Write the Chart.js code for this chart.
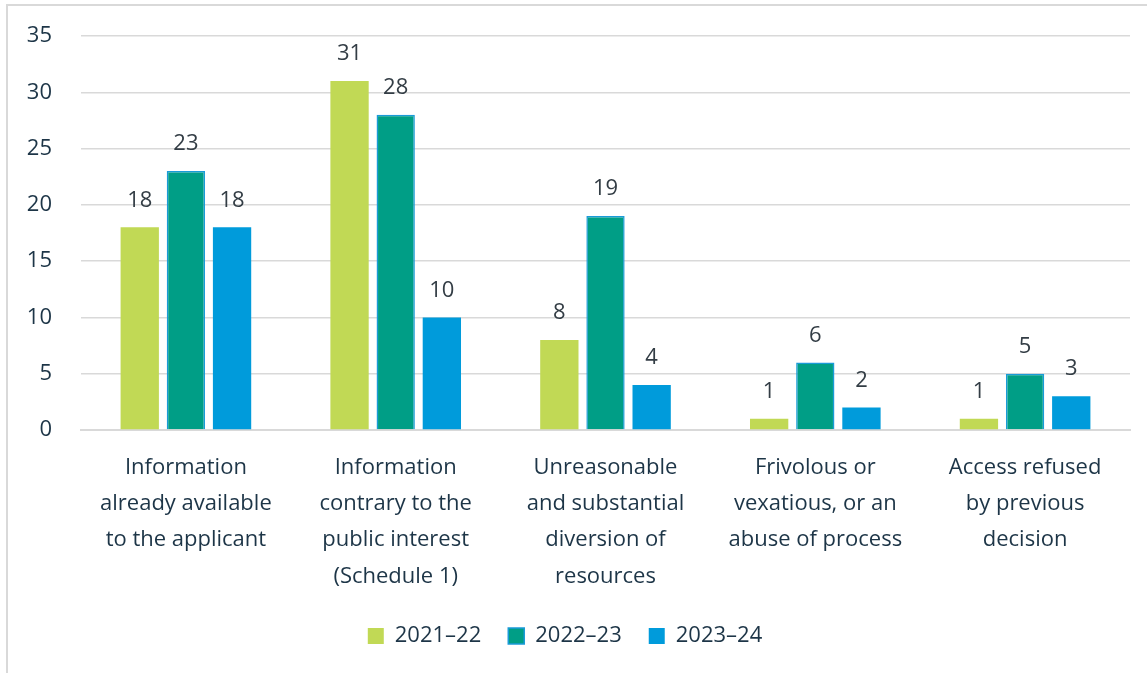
<!DOCTYPE html>
<html>
<head>
<meta charset="utf-8">
<script src="https://cdn.jsdelivr.net/npm/chart.js@4"></script>
<style>
    html, body { margin: 0; padding: 0; background: #fff; }
    #wrap { position: relative; width: 1147px; height: 673px; }
    #frame {
        position: absolute; left: 6px; top: 4px; right: -10px; bottom: -10px;
        border-left: 2px solid #d9d9d9; border-top: 2px solid #d9d9d9;
        pointer-events: none;
    }
    canvas { position: absolute; left: 0; top: 0; }
</style>
</head>
<body>
<div id="wrap">
    <canvas id="myChart" width="1147" height="673"></canvas>
    <div id="frame"></div>
</div>
<script>
const categories = [
    ['Information', 'already available', 'to the applicant'],
    ['Information', 'contrary to the', 'public interest', '(Schedule 1)'],
    ['Unreasonable', 'and substantial', 'diversion of', 'resources'],
    ['Frivolous or', 'vexatious, or an', 'abuse of process'],
    ['Access refused', 'by previous', 'decision']
];
const years = ['2021\u201322', '2022\u201323', '2023\u201324'];
const values2021 = [18, 31, 8, 1, 1];
const values2022 = [23, 28, 19, 6, 5];
const values2023 = [18, 10, 4, 2, 3];
const yTicks = [0, 5, 10, 15, 20, 25, 30, 35];

const textColor = '#1d3547';
const gridColor = '#d9d9d9';
const fontFamily = "'Open Sans', sans-serif";

// value printed above each bar
const barValues = {
    id: 'barValues',
    afterDatasetsDraw(chart) {
        const ctx = chart.ctx;
        ctx.save();
        ctx.font = `22px ${fontFamily}`;
        ctx.fillStyle = '#333d45';
        ctx.textAlign = 'center';
        ctx.textBaseline = 'middle';
        chart.data.datasets.forEach((ds, i) => {
            chart.getDatasetMeta(i).data.forEach((bar, j) => {
                ctx.fillText(String(ds.data[j]), bar.x, bar.y - 27);
            });
        });
        ctx.restore();
    }
};

const ctx = document.getElementById('myChart');
new Chart(ctx, {
    type: 'bar',
    data: {
        labels: categories,
        datasets: [{
            label: years[0],
            data: values2021,
            backgroundColor: '#c1d955',
            borderWidth: 0
        },
        {
            label: years[1],
            data: values2022,
            backgroundColor: '#009e86',
            borderColor: '#1a9bd8',
            borderWidth: 1.5
        },
        {
            label: years[2],
            data: values2023,
            backgroundColor: '#009bdb',
            borderWidth: 0
        }]
    },
    options: {
        responsive: false,
        animation: false,
        categoryPercentage: 0.66,
        barPercentage: 0.83,
        layout: {
            padding: { top: 36, right: 17, left: 0, bottom: 16 }
        },
        plugins: {
            legend: {
                position: 'bottom',
                labels: {
                    color: textColor,
                    font: { family: fontFamily, size: 22 },
                    boxWidth: 16,
                    boxHeight: 16,
                    padding: 27
                }
            },
            tooltip: { enabled: false }
        },
        scales: {
            x: {
                afterFit: scale => { scale.height = 168; },
                grid: { display: false },
                border: { color: gridColor, width: 2 },
                ticks: {
                    color: textColor,
                    font: { family: fontFamily, size: 22, lineHeight: 1.64 },
                    padding: 12,
                    maxRotation: 0,
                    autoSkip: false
                }
            },
            y: {
                min: 0,
                max: 35,
                afterBuildTicks: scale => {
                    scale.ticks = yTicks.map(v => ({ value: v }));
                },
                afterFit: scale => {
                    scale.width = 81;
                    scale.paddingTop = 0;
                    scale.paddingBottom = 0;
                },
                grid: { color: gridColor, lineWidth: 1.5, drawTicks: false },
                border: { display: false },
                ticks: {
                    color: textColor,
                    font: { family: fontFamily, size: 22 },
                    padding: 29
                }
            }
        }
    },
    plugins: [barValues]
});
</script>
</body>
</html>
